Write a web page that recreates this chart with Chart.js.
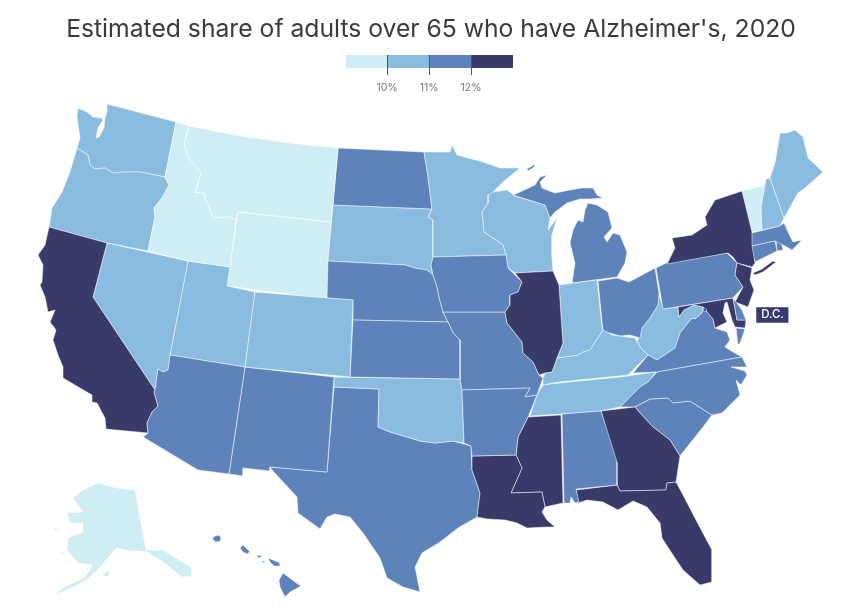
<!DOCTYPE html>
<html><head><meta charset="utf-8">
<script src="https://cdn.jsdelivr.net/npm/chart.js@4"></script>
<style>html,body{margin:0;padding:0;background:#fff}#m{position:absolute;left:0;top:0}#k{position:absolute;left:346px;top:55px}</style>
</head><body>
<canvas id="m" width="852" height="614"></canvas>
<canvas id="k" width="167" height="43"></canvas>
<script>
const chartTitle = "Estimated share of adults over 65 who have Alzheimer's, 2020";
const binEdges = [10, 11, 12];
const binColors = ['#cfeef4', '#89bcdf', '#5e83bb', '#383b69'];
const legendTicks = [10, 11, 12];
const legendRange = [9.02, 13];
const dcShare = 12.5;

const stateNames = ['Alabama','Alaska','Arizona','Arkansas','California','Colorado','Connecticut','Delaware','District of Columbia','Florida','Georgia','Hawaii','Idaho','Illinois','Indiana','Iowa','Kansas','Kentucky','Louisiana','Maine','Maryland','Massachusetts','Michigan','Minnesota','Mississippi','Missouri','Montana','Nebraska','Nevada','New Hampshire','New Jersey','New Mexico','New York','North Carolina','North Dakota','Ohio','Oklahoma','Oregon','Pennsylvania','Rhode Island','South Carolina','South Dakota','Tennessee','Texas','Utah','Vermont','Virginia','Washington','West Virginia','Wisconsin','Wyoming'];
const stateShares = [11.5,9.5,11.5,11.5,12.5,10.5,11.5,11.5,12.5,12.5,12.5,11.5,9.5,12.5,10.5,11.5,11.5,10.5,12.5,10.5,12.5,11.5,11.5,10.5,12.5,11.5,9.5,11.5,10.5,10.5,12.5,11.5,12.5,11.5,11.5,11.5,10.5,10.5,11.5,11.5,11.5,10.5,10.5,11.5,10.5,9.5,11.5,10.5,10.5,10.5,9.5];

const stateOutlines = {
'Washington':[[[107,104],[176,122],[165,177],[140,172],[123,172],[113,173],[105,168],[95,169],[90,165],[88,155],[80,150],[77,148],[80,138],[77,117],[78,108],[87,112],[93,117],[101,118],[103,120],[98,128],[96,138],[99,137],[104,128],[105,118],[107,112]]],
'Oregon':[[[77,148],[80,150],[88,155],[90,165],[95,169],[105,168],[113,173],[123,172],[140,172],[165,177],[169,185],[162,198],[154,208],[155,217],[148,251],[107,243],[49,227],[52,208],[62,192],[70,172]]],
'Idaho':[[[176,122],[189,126],[184,143],[188,157],[201,173],[195,193],[203,192],[210,210],[213,218],[230,217],[236,220],[230,267],[188,261],[148,251],[155,217],[154,208],[162,198],[169,185],[165,177]]],
'Montana':[[[189,126],[240,136],[290,143],[338,148],[333,205],[331,222],[238,212],[236,220],[230,217],[213,218],[210,210],[203,192],[195,193],[201,173],[188,157],[184,143]]],
'Wyoming':[[[238,212],[331,222],[327,299],[227,286]]],
'North Dakota':[[[338,148],[424,152],[428,177],[432,209],[333,205]]],
'South Dakota':[[[333,205],[432,209],[428,217],[433,220],[433,257],[431,265],[433,275],[427,270],[415,268],[405,265],[328,261]]],
'Nebraska':[[[328,261],[405,265],[415,268],[427,270],[433,275],[437,287],[439,297],[443,312],[448,322],[353,320],[353,300],[327,298]]],
'Kansas':[[[353,320],[448,322],[453,333],[460,340],[460,379],[350,377]]],
'Minnesota':[[[424,152],[450,152],[452,145],[457,155],[483,162],[500,168],[520,168],[503,182],[492,193],[488,195],[488,203],[482,212],[484,232],[503,245],[506,255],[433,257],[433,220],[428,217],[432,209],[428,177]]],
'Iowa':[[[433,257],[506,255],[508,268],[522,282],[518,292],[510,295],[510,305],[505,312],[443,312],[439,297],[437,287],[433,275],[431,265]]],
'Wisconsin':[[[488,195],[492,192],[507,190],[515,196],[545,205],[550,218],[548,230],[557,218],[552,235],[552,257],[553,271],[515,273],[508,268],[506,255],[503,245],[484,232],[482,212],[488,203]]],
'Illinois':[[[515,273],[553,271],[559,285],[562,330],[563,343],[557,358],[552,372],[545,373],[539,375],[533,362],[523,353],[522,342],[507,323],[505,312],[510,305],[510,295],[518,292],[522,282]]],
'Missouri':[[[443,312],[505,312],[507,323],[522,342],[523,353],[533,362],[539,375],[543,378],[537,395],[525,397],[530,388],[462,390],[460,379],[460,340],[453,333],[448,322]]],
'Colorado':[[[255,292],[327,298],[353,300],[350,377],[245,367]]],
'Utah':[[[188,261],[230,267],[227,286],[255,292],[245,367],[170,355]]],
'Nevada':[[[107,243],[188,261],[170,355],[168,370],[163,372],[158,369],[155,390],[93,297]]],
'California':[[[49,227],[107,243],[93,297],[155,390],[154,392],[158,406],[152,412],[147,423],[148,433],[106,429],[105,418],[97,403],[92,402],[92,395],[80,388],[63,378],[63,367],[58,355],[53,340],[56,330],[50,322],[55,310],[48,312],[45,297],[40,285],[42,282],[43,265],[38,255],[45,245]]],
'Arizona':[[[170,355],[245,367],[229,474],[198,470],[143,437],[148,433],[147,423],[152,412],[158,406],[154,392],[155,390],[158,369],[163,372],[168,370]]],
'New Mexico':[[[245,367],[334,377],[327,472],[270,467],[270,471],[243,468],[243,476],[229,474]]],
'Texas':[[[334,387],[379,389],[378,427],[390,432],[407,437],[420,441],[435,443],[453,441],[471,446],[472,470],[480,493],[477,517],[458,528],[440,542],[422,553],[415,567],[420,592],[403,587],[387,578],[380,558],[363,533],[350,517],[335,514],[327,517],[320,529],[298,513],[297,497],[272,470],[270,467],[327,472]]],
'Oklahoma':[[[334,377],[460,379],[462,390],[464,443],[453,441],[435,443],[420,441],[407,437],[390,432],[378,427],[379,389],[334,387]]],
'Arkansas':[[[462,390],[530,388],[525,397],[537,395],[528,417],[518,437],[516,455],[472,456],[471,446],[464,443]]],
'Louisiana':[[[472,456],[516,455],[522,468],[511,493],[542,492],[545,507],[542,512],[547,520],[555,527],[547,527],[527,528],[517,523],[505,520],[487,519],[477,517],[480,493],[472,470]]],
'Mississippi':[[[528,417],[561,415],[563,503],[545,507],[542,492],[511,493],[522,468],[516,455],[518,437]]],
'Alabama':[[[562,414],[601,411],[617,462],[617,485],[576,489],[579,502],[575,503],[571,497],[570,503],[564,503]]],
'Tennessee':[[[530,416],[537,395],[543,385],[559,383],[620,377],[656,372],[648,382],[640,387],[620,407],[600,411],[562,414]]],
'Kentucky':[[[543,385],[543,378],[545,373],[552,372],[557,358],[578,355],[583,352],[590,350],[603,330],[612,335],[635,338],[640,347],[648,355],[628,375],[559,382]]],
'Indiana':[[[559,285],[597,280],[602,327],[603,330],[590,350],[583,352],[578,355],[557,358],[563,343],[562,330]]],
'Ohio':[[[598,281],[617,278],[629,282],[655,268],[659,293],[658,305],[650,318],[642,328],[640,338],[630,335],[620,336],[603,331]]],
'Michigan':[[[572,283],[617,277],[625,263],[627,252],[620,235],[613,233],[607,242],[604,237],[612,228],[608,212],[597,205],[588,203],[585,210],[583,222],[578,220],[573,230],[570,243],[575,263]],[[513,195],[520,192],[535,185],[540,177],[547,175],[540,182],[542,188],[555,193],[570,190],[582,188],[593,188],[597,195],[603,198],[590,199],[580,199],[567,203],[555,212],[550,218],[545,205]],[[527,169],[535,164],[534,167],[528,171]]],
'West Virginia':[[[658,293],[664,309],[678,307],[679,317],[684,310],[694,305],[703,307],[702,313],[695,319],[692,318],[680,333],[675,348],[657,360],[648,355],[640,347],[637,342],[642,328],[650,318],[658,305]]],
'Pennsylvania':[[[656,268],[666,263],[727,253],[737,263],[735,275],[743,287],[733,298],[663,309]]],
'Maryland':[[[678,307],[733,298],[737,320],[746,320],[745,328],[735,327],[732,320],[727,302],[725,303],[723,313],[727,322],[715,328],[713,319],[703,307],[694,305],[684,310],[679,317]]],
'Delaware':[[[733,298],[742,310],[746,320],[737,320]]],
'District of Columbia':[[[703,307],[707,310],[704,312]]],
'New Jersey':[[[737,263],[752,268],[750,280],[754,290],[748,307],[735,302],[743,287],[735,275]]],
'New York':[[[742,191],[752,232],[755,263],[752,267],[737,263],[733,257],[728,253],[667,264],[675,248],[672,238],[692,235],[707,225],[705,217],[715,200]],[[753,273],[762,269],[773,261],[776,262],[763,272],[755,275]]],
'Vermont':[[[742,191],[765,185],[761,207],[762,230],[752,232]]],
'New Hampshire':[[[766,179],[770,178],[784,218],[780,226],[762,230],[761,207],[765,185]]],
'Maine':[[[770,178],[775,163],[780,133],[787,133],[795,130],[803,137],[808,158],[823,172],[805,188],[798,193],[787,213],[784,218]]],
'Massachusetts':[[[752,233],[780,226],[784,223],[788,232],[793,242],[802,240],[792,250],[785,246],[775,241],[752,246]]],
'Connecticut':[[[752,246],[775,241],[777,251],[755,262]]],
'Rhode Island':[[[776,241],[781,239],[783,250],[777,251]]],
'Virginia':[[[633,373],[648,355],[657,360],[675,348],[680,333],[692,318],[695,319],[702,313],[703,307],[713,319],[715,328],[727,332],[730,340],[725,347],[733,352],[742,357],[657,372]],[[745,329],[740,343],[738,345],[736,328]]],
'North Carolina':[[[657,372],[742,357],[747,367],[731,367],[745,371],[747,375],[741,385],[736,380],[740,395],[722,413],[712,415],[690,401],[673,403],[668,398],[650,399],[635,407],[620,407],[640,387],[648,382]]],
'South Carolina':[[[635,407],[650,399],[668,398],[673,403],[690,401],[712,415],[703,427],[680,456],[670,440],[653,427],[640,413]]],
'Georgia':[[[601,411],[635,407],[640,413],[653,427],[670,440],[680,456],[676,482],[667,483],[666,490],[620,491],[617,485],[615,463]]],
'Florida':[[[576,490],[617,485],[620,491],[666,490],[667,483],[676,482],[682,493],[697,522],[712,550],[712,582],[700,585],[683,570],[675,558],[662,538],[660,523],[647,507],[633,501],[618,510],[603,502],[587,500],[578,503]]],
'Alaska':[[[135,490],[146,550],[152,550],[163,550],[192,568],[192,576],[182,577],[163,562],[147,552],[125,550],[117,548],[112,553],[100,567],[87,580],[67,590],[55,595],[63,588],[85,577],[93,565],[78,563],[67,550],[68,538],[83,532],[83,523],[70,523],[67,513],[83,512],[73,498],[83,490],[98,483],[117,488]],[[102,575],[110,570],[108,577]],[[52,527],[60,530],[55,530]],[[60,552],[66,553],[62,555]]],
'Hawaii':[[[283,573],[295,582],[301,586],[290,592],[285,597],[280,587],[279,580]],[[268,558],[273,560],[280,563],[280,566],[274,566],[270,562]],[[240,548],[243,545],[247,549],[250,552],[247,554],[243,552]],[[213,537],[218,535],[221,537],[221,541],[216,542],[213,540]],[[257,555],[263,556],[258,558]],[[262,560],[265,562],[263,563]]]
};
const dcLabel = {text:'D.C.', x:[756,789], y:[307,323]};

function binColor(v){ let i=0; while(i<binEdges.length && v>=binEdges[i]) i++; return binColors[i]; }
const closed = r => r.concat([r[0]]).map(p=>({x:p[0],y:p[1]}));

const datasets = [];
stateNames.forEach((name,i)=>{
  (stateOutlines[name]||[]).forEach(ring=>{
    const c = binColor(stateShares[i]);
    datasets.push({label:name,data:closed(ring),showLine:true,fill:'shape',backgroundColor:c,borderColor:'rgba(255,255,255,0.5)',borderWidth:1,pointRadius:0,tension:0});
  });
});
const lx=dcLabel.x, ly=dcLabel.y;
datasets.push({label:'D.C. label',data:closed([[lx[0],ly[0]],[lx[1],ly[0]],[lx[1],ly[1]],[lx[0],ly[1]]]),showLine:true,fill:'shape',backgroundColor:binColor(dcShare),borderColor:'rgba(255,255,255,0.5)',borderWidth:1,pointRadius:0,tension:0});

const dcText = {id:'dcText',afterDatasetsDraw(c){const g=c.ctx;g.save();g.font='500 11.5px Inter, sans-serif';g.fillStyle='#fff';g.textAlign='center';g.textBaseline='middle';
  g.fillText(dcLabel.text,c.scales.x.getPixelForValue((lx[0]+lx[1])/2),c.scales.y.getPixelForValue((ly[0]+ly[1])/2));g.restore();}};

new Chart(document.getElementById('m'),{type:'scatter',data:{datasets},plugins:[dcText],options:{
  responsive:false,animation:false,events:[],
  layout:{padding:{left:10}},
  plugins:{legend:{display:false},tooltip:{enabled:false},
    title:{display:true,text:chartTitle,color:'#3a3a3a',font:{family:'Inter, sans-serif',size:24.7,weight:'normal',lineHeight:30/24.7},padding:{top:15,bottom:5}}},
  scales:{x:{type:'linear',display:false,min:10,max:852},y:{type:'linear',display:false,min:50,max:614,reverse:true}}
}});

new Chart(document.getElementById('k'),{type:'bar',
  data:{labels:['share'],datasets:binColors.map((c,i)=>({data:[[i===0?legendRange[0]:binEdges[i-1], i===binEdges.length?legendRange[1]:binEdges[i]]],backgroundColor:c,barPercentage:1,categoryPercentage:1,borderWidth:0,grouped:false}))},
  options:{indexAxis:'y',responsive:false,animation:false,events:[],layout:{padding:0},
    plugins:{legend:{display:false},tooltip:{enabled:false}},
    scales:{
      y:{display:false},
      x:{min:legendRange[0],max:legendRange[1],position:'bottom',
        afterBuildTicks:a=>{a.ticks=legendTicks.map(v=>({value:v}));},
        afterFit:a=>{a.height=30;},
        border:{display:false},
        grid:{color:'#555',z:1,tickLength:7,lineWidth:1,drawOnChartArea:true},
        ticks:{autoSkip:false,maxRotation:0,padding:7,color:'#777',font:{family:'Inter, sans-serif',size:10.5},callback:v=>v+'%'}}
    }}
});
</script>
</body></html>
